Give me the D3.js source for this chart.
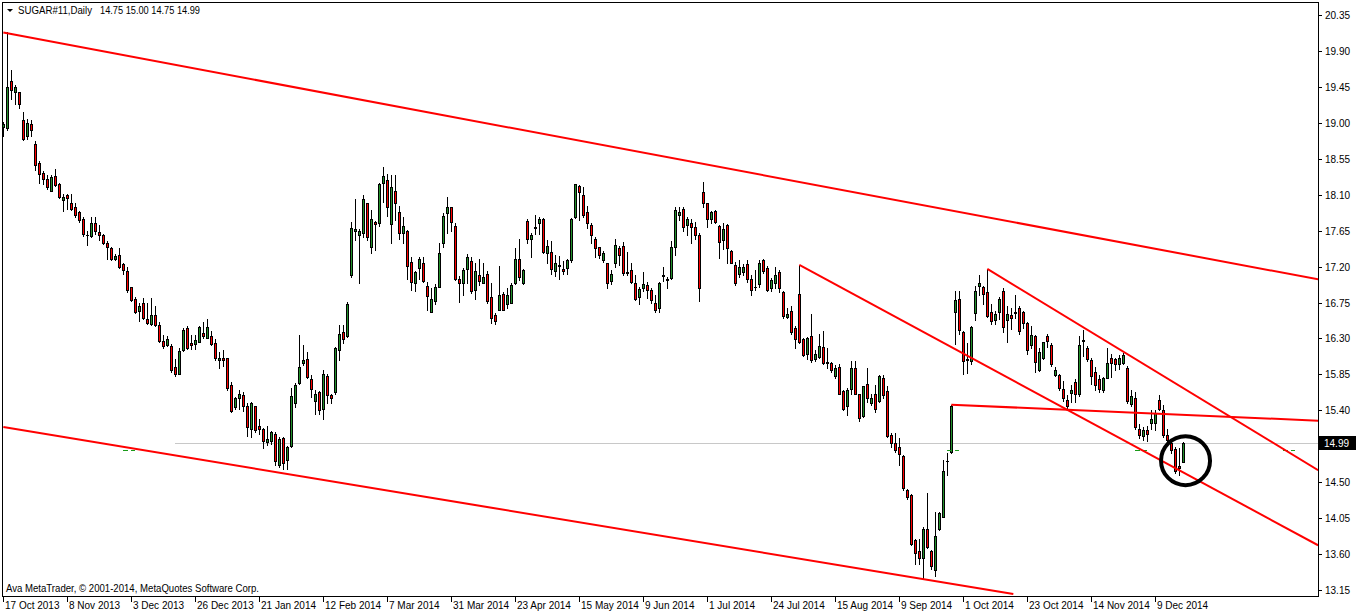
<!DOCTYPE html>
<html><head><meta charset="utf-8">
<script src="https://cdn.jsdelivr.net/npm/d3@7"></script>
<style>
html,body{margin:0;padding:0;background:#fff;}
svg{display:block;}
text{font-family:"Liberation Sans",Arial,sans-serif;fill:#000;}
</style>
</head><body>
<svg id="c" width="1362" height="614"></svg>
<script>
// ---- DATA (daily bars, index 0 = 17 Oct 2013) ----
const openP = [
18.95,18.94,19.52,19.38,19.38,19.04,18.83,18.99,18.74,18.50,
18.37,18.30,18.15,18.34,18.24,18.03,18.10,18.00,17.94,17.88,
17.80,17.59,17.58,17.74,17.63,17.60,17.50,17.43,17.29,17.34,
17.23,17.14,16.94,16.79,16.64,16.74,16.54,16.48,16.59,16.47,
16.27,16.22,16.21,15.94,15.86,16.15,16.43,16.24,16.23,16.26,
16.37,16.31,16.33,16.24,16.03,16.06,16.05,15.72,15.44,15.55,
15.59,15.46,15.16,15.45,15.20,15.17,15.00,15.02,15.10,14.72,
15.05,14.78,14.95,15.49,15.74,15.99,16.04,15.79,15.52,15.63,
15.42,15.83,15.59,15.63,16.16,16.38,16.33,17.09,17.64,17.59,
17.62,17.99,17.45,17.76,17.74,18.25,18.29,17.73,18.14,17.88,
17.62,17.65,17.26,16.99,17.18,17.24,16.96,16.63,16.77,16.95,
17.49,17.87,17.94,17.71,17.04,16.99,17.17,17.27,16.91,17.09,
17.00,17.11,16.82,16.59,16.66,16.86,16.73,16.75,16.99,17.29,
16.99,17.77,17.54,17.68,17.74,17.79,17.37,17.38,17.15,17.21,
17.17,17.18,17.28,17.82,18.21,18.10,17.88,17.72,17.55,17.44,
17.28,17.24,17.02,17.24,17.43,17.46,17.12,17.16,16.99,16.82,
16.93,16.97,16.91,16.75,16.68,17.08,17.04,17.06,17.44,17.84,
17.92,17.72,17.75,17.69,17.59,18.13,17.99,17.80,17.90,17.71,
17.53,17.72,17.40,17.22,17.11,17.13,17.23,17.05,16.94,16.98,
17.28,17.18,16.93,17.00,17.13,16.88,16.57,16.64,16.43,16.86,
16.29,16.11,16.33,16.04,16.07,16.19,16.00,15.99,15.83,15.94,
15.64,15.46,15.67,15.93,15.60,15.33,15.73,15.49,15.60,15.52,
15.81,15.64,15.09,14.99,14.94,14.83,14.40,14.34,13.78,13.64,
13.55,13.91,13.64,13.40,13.92,14.07,14.76,14.88,16.63,16.80,
16.38,16.03,16.02,16.62,16.96,16.95,16.88,16.63,16.53,16.63,
16.90,16.53,16.59,16.62,16.68,16.63,16.49,16.22,16.33,15.91,
16.05,16.33,16.22,15.84,15.84,15.67,15.53,15.62,15.75,15.60,
16.27,16.18,16.03,15.88,15.79,15.65,15.81,16.05,16.04,15.98,
15.99,15.93,15.48,15.55,15.17,15.08,15.15,15.24,15.24,15.53,
15.40,15.09,14.99,14.92,14.70,14.75];
const highP = [
19.01,20.14,19.66,19.47,19.39,19.14,19.05,19.03,18.77,18.52,
18.40,18.35,18.35,18.42,18.25,18.11,18.11,18.11,17.99,17.89,
17.82,17.65,17.82,17.82,17.72,17.61,17.52,17.44,17.36,17.43,
17.25,17.20,16.95,16.82,16.74,16.81,16.74,16.81,16.70,16.50,
16.34,16.33,16.23,16.04,16.18,16.43,16.45,16.34,16.34,16.46,
16.50,16.54,16.39,16.29,16.13,16.15,16.06,15.75,15.57,15.65,
15.63,15.49,15.50,15.46,15.29,15.18,15.20,15.14,15.13,15.06,
15.07,14.95,15.68,15.74,16.34,16.22,16.13,15.84,15.66,15.64,
15.90,15.85,15.61,16.19,16.47,16.47,16.76,17.76,18.04,17.67,
18.10,18.00,17.91,17.77,18.25,18.45,18.36,18.35,18.35,17.96,
17.82,17.66,17.32,17.14,17.32,17.32,17.01,16.93,16.98,17.49,
17.87,18.07,17.95,17.74,17.08,17.18,17.36,17.32,17.24,17.30,
17.25,17.14,17.00,16.62,17.21,16.88,16.93,17.00,17.43,17.55,
17.17,17.79,17.62,17.85,17.82,17.81,17.53,17.52,17.34,17.33,
17.27,17.29,17.81,18.24,18.22,18.20,17.96,17.74,17.57,17.45,
17.39,17.25,17.16,17.55,17.46,17.51,17.38,17.24,17.09,16.95,
17.13,17.01,16.93,16.84,17.01,17.19,17.07,17.52,17.94,17.94,
17.95,17.82,17.80,17.76,17.62,18.26,18.00,17.89,17.91,17.72,
17.74,17.73,17.41,17.26,17.28,17.23,17.28,17.09,17.16,17.28,
17.30,17.21,17.06,17.19,17.16,16.89,16.68,16.70,16.45,17.22,
16.31,16.32,16.61,16.15,16.36,16.39,16.18,16.00,15.97,15.98,
15.65,15.68,16.02,16.02,15.61,15.71,15.93,15.60,15.72,15.84,
15.84,15.70,15.12,15.11,15.05,14.84,14.41,14.35,13.79,13.79,
13.94,14.36,13.65,14.13,14.13,14.78,14.86,15.47,16.89,16.90,
16.39,16.24,16.45,16.96,17.09,16.96,17.17,16.73,16.64,16.82,
16.93,16.70,16.68,16.85,16.70,16.64,16.50,16.45,16.34,16.18,
16.26,16.36,16.24,15.94,15.86,15.77,15.59,15.72,15.79,16.33,
16.40,16.20,16.06,15.94,15.84,15.82,16.18,16.11,16.06,16.09,
16.12,15.95,15.65,15.63,15.23,15.19,15.20,15.40,15.41,15.59,
15.47,15.17,15.02,14.94,14.93,15.00];
const lowP = [
18.83,18.91,19.30,19.23,19.19,18.78,18.80,18.83,18.41,18.25,
18.24,18.17,18.14,18.21,18.06,17.89,17.92,17.91,17.82,17.76,
17.58,17.47,17.57,17.61,17.53,17.48,17.29,17.28,17.28,17.18,
17.11,16.88,16.77,16.62,16.52,16.54,16.48,16.47,16.45,16.26,
16.18,16.20,15.88,15.83,15.85,16.14,16.17,16.17,16.17,16.25,
16.30,16.30,16.22,16.03,15.93,15.95,15.65,15.38,15.42,15.42,
15.39,15.08,15.07,15.13,15.10,14.93,14.97,14.98,14.71,14.69,
14.67,14.66,14.94,15.44,15.73,15.97,15.81,15.57,15.35,15.36,
15.29,15.49,15.49,15.61,16.03,16.24,16.32,17.07,17.53,17.00,
17.57,17.53,17.37,17.41,17.71,18.01,17.83,17.49,17.78,17.55,
17.49,17.04,16.91,16.90,17.04,17.01,16.66,16.63,16.73,16.94,
17.45,17.62,17.65,17.03,16.76,16.84,16.99,16.87,16.79,16.97,
16.99,16.75,16.49,16.48,16.66,16.65,16.68,16.74,16.98,17.03,
16.98,17.50,17.32,17.61,17.61,17.37,17.24,17.11,17.08,17.04,
17.11,17.11,17.26,17.81,17.78,17.82,17.68,17.50,17.32,17.31,
17.26,16.93,16.98,17.20,17.22,17.09,17.09,16.99,16.78,16.73,
16.89,16.81,16.74,16.63,16.63,17.02,16.93,17.05,17.34,17.78,
17.64,17.60,17.50,17.55,16.77,17.94,17.69,17.74,17.75,17.31,
17.42,17.24,17.24,16.97,17.07,17.09,17.01,16.84,16.91,16.94,
17.12,16.89,16.89,16.93,16.88,16.55,16.55,16.36,16.18,16.24,
16.08,16.04,16.01,16.02,16.05,15.98,15.93,15.88,15.81,15.60,
15.40,15.34,15.61,15.60,15.27,15.32,15.51,15.47,15.38,15.51,
15.55,15.06,14.94,14.88,14.72,14.40,14.29,13.71,13.48,13.48,
13.29,13.67,13.41,13.32,13.90,14.06,14.59,14.87,16.23,16.36,
15.86,15.87,15.98,16.53,16.84,16.73,16.57,16.48,16.48,16.54,
16.38,16.25,16.42,16.55,16.35,16.43,16.11,16.18,15.88,15.89,
16.04,16.19,15.95,15.83,15.65,15.52,15.42,15.51,15.51,15.58,
16.08,16.02,15.73,15.65,15.63,15.63,15.80,15.82,15.90,15.92,
15.98,15.49,15.46,15.16,15.05,15.03,15.01,15.16,15.15,15.40,
15.06,14.96,14.86,14.62,14.59,14.75];
const closeP = [
18.98,19.45,19.41,19.45,19.24,18.80,19.00,18.91,18.47,18.36,
18.30,18.19,18.32,18.22,18.07,18.07,18.06,17.92,17.85,17.78,
17.61,17.59,17.74,17.64,17.60,17.49,17.44,17.29,17.33,17.19,
17.16,16.91,16.78,16.63,16.71,16.55,16.49,16.59,16.47,16.27,
16.20,16.29,15.90,15.85,16.14,16.41,16.18,16.22,16.28,16.44,
16.33,16.44,16.23,16.05,16.06,16.03,15.68,15.39,15.56,15.60,
15.46,15.19,15.49,15.15,15.16,15.01,15.04,15.13,14.77,15.04,
14.74,14.94,15.58,15.72,15.94,16.03,15.82,15.67,15.60,15.41,
15.85,15.59,15.56,16.18,16.36,16.29,16.73,17.68,17.67,17.65,
18.04,17.57,17.79,17.73,18.24,18.33,17.95,18.19,17.99,17.62,
17.71,17.21,17.01,17.13,17.30,17.02,16.83,16.79,16.94,17.37,
17.83,17.94,17.76,17.04,16.99,17.16,17.32,16.90,17.14,17.02,
17.07,16.77,16.55,16.52,16.84,16.66,16.84,16.97,17.30,17.07,
17.16,17.54,17.59,17.69,17.80,17.38,17.46,17.17,17.24,17.22,
17.15,17.28,17.80,18.23,18.13,17.84,17.74,17.59,17.43,17.34,
17.37,16.99,17.11,17.47,17.34,17.12,17.13,17.01,16.79,16.92,
16.98,16.91,16.78,16.66,17.00,17.09,17.03,17.44,17.91,17.88,
17.69,17.79,17.70,17.59,16.93,18.00,17.80,17.88,17.76,17.51,
17.67,17.43,17.25,17.00,17.19,17.19,17.04,16.91,16.95,17.24,
17.14,16.91,17.03,17.09,16.93,16.58,16.61,16.38,16.29,16.25,
16.09,16.31,16.03,16.10,16.20,15.99,15.99,15.91,15.93,15.61,
15.42,15.65,15.93,15.61,15.31,15.70,15.56,15.56,15.42,15.83,
15.59,15.08,14.99,14.90,14.85,14.43,14.31,13.73,13.61,13.55,
13.92,13.69,13.45,13.83,14.12,14.64,14.77,15.46,16.78,16.40,
16.02,16.04,16.44,16.90,16.99,16.86,16.58,16.52,16.60,16.80,
16.44,16.60,16.55,16.63,16.39,16.49,16.15,16.34,16.00,16.13,
16.25,16.27,15.98,15.91,15.68,15.56,15.45,15.66,15.60,16.22,
16.28,16.04,15.83,15.72,15.67,15.81,15.99,15.99,15.98,16.05,
16.09,15.52,15.58,15.19,15.09,15.15,15.10,15.29,15.37,15.42,
15.09,15.03,14.90,14.64,14.68,14.99];

const priceTicks = [20.35,19.90,19.45,19.00,18.55,18.10,17.65,17.20,16.75,16.30,15.85,15.40,14.95,14.50,14.05,13.60,13.15];
const dateLabels = ["17 Oct 2013","8 Nov 2013","3 Dec 2013","26 Dec 2013","21 Jan 2014","12 Feb 2014","7 Mar 2014",
  "31 Mar 2014","23 Apr 2014","15 May 2014","9 Jun 2014","1 Jul 2014","24 Jul 2014","15 Aug 2014","9 Sep 2014",
  "1 Oct 2014","23 Oct 2014","14 Nov 2014","9 Dec 2014"];
const barsPerDateLabel = 16;
// trend lines: [barIndex, price] endpoints
const trendLines = [
  [[0, 20.13], [328.7, 17.04]],
  [[0, 15.19], [252.5, 13.10]],
  [[199, 17.22], [328.7, 13.71]],
  [[246, 17.17], [328.7, 14.65]],
  [[237, 15.47], [328.7, 15.27]]
];
const bidPrice = 14.99;
const bidLineStartBar = 43;
const markerBars = [[30, 33], [236, 239], [283, 286], [320, 323]];
const markerPrice = 14.90;
const circleCenter = [295.55, 14.77];
const symbolName = "SUGAR#11,Daily";
const copyright = "Ava MetaTrader, \u00A9 2001-2014, MetaQuotes Software Corp.";

// ---- DRAW ----
const plotL = 3, plotR = 1318, plotT = 3, plotB = 596;
const svg = d3.select("#c");
const x = d3.scaleLinear().domain([0, 295]).range([3.33, 1183.33]);
const y = d3.scaleLinear().domain([13.15, 20.35]).range([590, 15]);
const RED = "#ff0000", GREEN = "#22902a";

svg.append("defs").append("clipPath").attr("id", "clip")
  .append("rect").attr("x", plotL).attr("y", plotT).attr("width", plotR - plotL).attr("height", plotB - plotT);

const bars = d3.range(closeP.length).map(i => ({i, o: openP[i], h: highP[i], l: lowP[i], c: closeP[i]}));
const col = d => Math.floor(x(d.i));

// bid line
svg.append("line")
  .attr("x1", x(bidLineStartBar)).attr("x2", plotR)
  .attr("y1", Math.round(y(bidPrice)) + 0.5).attr("y2", Math.round(y(bidPrice)) + 0.5)
  .attr("stroke", "#c8c8c8").attr("stroke-width", 1).attr("shape-rendering", "crispEdges");

const g = svg.append("g").attr("clip-path", "url(#clip)");

// wicks
g.selectAll("line.wick").data(bars).join("line").attr("class", "wick")
  .attr("x1", d => col(d) + 0.5).attr("x2", d => col(d) + 0.5)
  .attr("y1", d => Math.round(y(d.h))).attr("y2", d => Math.round(y(d.l)) + 1)
  .attr("stroke", "#000").attr("stroke-width", 1).attr("shape-rendering", "crispEdges");

// bodies
const bodyTop = d => Math.round(y(Math.max(d.o, d.c)));
const bodyBot = d => Math.round(y(Math.min(d.o, d.c)));
g.selectAll("rect.body").data(bars).join("rect").attr("class", "body")
  .attr("shape-rendering", "crispEdges")
  .each(function(d) {
    const t = bodyTop(d), b = bodyBot(d), c = col(d);
    const s = d3.select(this);
    if (b - t < 2) {
      s.attr("x", c - 1).attr("y", t).attr("width", 3).attr("height", b - t + 1).attr("fill", "#000");
    } else {
      s.attr("x", c - 0.5).attr("y", t + 0.5).attr("width", 2).attr("height", b - t)
        .attr("fill", d.c >= d.o ? GREEN : RED).attr("stroke", "#000").attr("stroke-width", 1);
    }
  });

// green markers
g.selectAll("line.mk").data(markerBars).join("line").attr("class", "mk")
  .attr("x1", d => x(d[0])).attr("x2", d => x(d[1]))
  .attr("y1", Math.round(y(markerPrice)) + 0.5).attr("y2", Math.round(y(markerPrice)) + 0.5)
  .attr("stroke", "#1a9a1a").attr("stroke-width", 1).attr("stroke-dasharray", "5,3")
  .attr("shape-rendering", "crispEdges");

// trend lines
g.selectAll("line.trend").data(trendLines).join("line").attr("class", "trend")
  .attr("x1", d => x(d[0][0])).attr("y1", d => y(d[0][1]))
  .attr("x2", d => x(d[1][0])).attr("y2", d => y(d[1][1]))
  .attr("stroke", RED).attr("stroke-width", 2);

// circle
svg.append("circle")
  .attr("cx", x(circleCenter[0])).attr("cy", y(circleCenter[1])).attr("r", 24.5)
  .attr("fill", "none").attr("stroke", "#000").attr("stroke-width", 4);

// frame
svg.append("rect").attr("x", plotL - 0.5).attr("y", plotT - 0.5)
  .attr("width", plotR - plotL + 1).attr("height", plotB - plotT + 1)
  .attr("fill", "none").attr("stroke", "#000").attr("stroke-width", 1).attr("shape-rendering", "crispEdges");

// price axis
const pa = svg.append("g");
const by = Math.round(y(bidPrice));
priceTicks.forEach(v => {
  const yy = Math.round(y(v));
  pa.append("line").attr("x1", plotR + 1).attr("x2", plotR + 4).attr("y1", yy + 0.5).attr("y2", yy + 0.5)
    .attr("stroke", "#000").attr("shape-rendering", "crispEdges");
  if (Math.abs(yy - by) > 10) {
    pa.append("text").attr("x", plotR + 7).attr("y", yy + 4).attr("font-size", "10px").text(v.toFixed(2));
  }
});
// bid label
pa.append("rect").attr("x", plotR + 1).attr("y", by - 7).attr("width", 37).attr("height", 14).attr("fill", "#000");
pa.append("text").attr("x", plotR + 6).attr("y", by + 4).attr("font-size", "10px")
  .style("fill", "#fff").text(bidPrice.toFixed(2));

// time axis
const ta = svg.append("g");
dateLabels.forEach((lab, k) => {
  const c = Math.floor(x(k * barsPerDateLabel));
  ta.append("line").attr("x1", c + 0.5).attr("x2", c + 0.5).attr("y1", plotB + 1).attr("y2", plotB + 6)
    .attr("stroke", "#000").attr("shape-rendering", "crispEdges");
  ta.append("text").attr("x", c + 2).attr("y", 609).attr("font-size", "10px").text(lab);
});

// title
svg.append("path").attr("d", "M7,9 L13,9 L10,12 Z").attr("fill", "#000");
const last = bars[bars.length - 1];
svg.append("text").attr("x", 18).attr("y", 14).attr("font-size", "10px")
  .attr("textLength", 74).attr("lengthAdjust", "spacingAndGlyphs").text(symbolName);
svg.append("text").attr("x", 100).attr("y", 14).attr("font-size", "10px")
  .attr("textLength", 100).attr("lengthAdjust", "spacingAndGlyphs")
  .text([last.o, last.h, last.l, last.c].map(v => v.toFixed(2)).join(" "));

// copyright
svg.append("text").attr("x", 6).attr("y", 592).attr("font-size", "10px")
  .attr("textLength", 253).attr("lengthAdjust", "spacingAndGlyphs").text(copyright);
</script>
</body></html>
